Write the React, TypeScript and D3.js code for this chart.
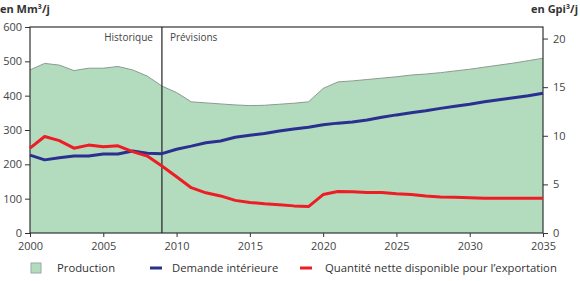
import React, { useEffect, useRef } from "react";
import * as d3 from "d3";

const years = d3.range(2000, 2036);
const production = [
  475, 494, 489, 473, 480, 480, 485, 475, 457, 428,
  409, 382, 379, 376, 373, 371, 372, 375, 378, 382,
  421, 440, 443, 447, 451, 455, 460, 463, 467, 472,
  477, 483, 489, 495, 502, 509,
];
const demand = [
  227, 213, 219, 224, 224, 230, 230, 239, 232, 231,
  244, 253, 263, 268, 279, 285, 290, 297, 303, 308,
  315, 320, 323, 329, 337, 344, 350, 356, 363, 369,
  375, 382, 388, 394, 400, 407,
];
const exportable = [
  247, 281, 269, 247, 256, 251, 254, 237, 224, 195,
  164, 132, 117, 108, 95, 89, 85, 82, 79, 77,
  112, 121, 120, 118, 118, 114, 112, 108, 105, 104,
  103, 101, 101, 101, 101, 101,
];
const leftTicks = [0, 100, 200, 300, 400, 500, 600];
const rightTicks = [0, 5, 10, 15, 20];
const xTicks = [2000, 2005, 2010, 2015, 2020, 2025, 2030, 2035];
const splitYear = 2009;
const legendItems = ["Production", "Demande intérieure", "Quantité nette disponible pour l’exportation"];

const FONT = "'Open Sans', sans-serif";

const App = () => {
  const ref = useRef<SVGSVGElement>(null);

  useEffect(() => {
    const width = 580;
    const height = 281;
    const margin = { top: 27, right: 37, bottom: 48, left: 30 };
    const w = width - margin.left - margin.right;
    const h = height - margin.top - margin.bottom;

    const svgRoot = d3.select(ref.current);
    svgRoot.selectAll("*").remove();
    const svg = svgRoot
      .append("g")
      .attr("transform", `translate(${margin.left},${margin.top})`);

    const x = d3.scaleLinear().domain([2000, 2035]).range([0, w]);
    const y = d3.scaleLinear().domain([0, 600]).range([h, 0]);
    // 1 Mm3 = 35.3147 Gpi3
    const y2 = d3.scaleLinear().domain([0, 600 * 0.0353147]).range([h, 0]);

    // production area
    svg
      .append("path")
      .datum(years)
      .attr("fill", "#b3dcbe")
      .attr("stroke", "none")
      .attr(
        "d",
        d3
          .area<number>()
          .x((d) => x(d))
          .y0(h)
          .y1((d, i) => y(production[i]))
      );
    svg
      .append("path")
      .datum(years)
      .attr("fill", "none")
      .attr("stroke", "#8c9a90")
      .attr("stroke-width", 1)
      .attr(
        "d",
        d3
          .line<number>()
          .x((d) => x(d))
          .y((d, i) => y(production[i]))
      );

    // frame
    svg
      .append("rect")
      .attr("x", 0)
      .attr("y", 0)
      .attr("width", w)
      .attr("height", h)
      .attr("fill", "none")
      .attr("stroke", "#333")
      .attr("stroke-width", 1.2);

    // historical / forecast separator
    svg
      .append("line")
      .attr("x1", x(splitYear))
      .attr("x2", x(splitYear))
      .attr("y1", 0)
      .attr("y2", h)
      .attr("stroke", "#222")
      .attr("stroke-width", 1.2);
    svg
      .append("text")
      .attr("x", x(splitYear) - 9)
      .attr("y", 14)
      .attr("text-anchor", "end")
      .style("font-family", FONT)
      .style("font-size", "10px")
      .style("fill", "#444")
      .text("Historique");
    svg
      .append("text")
      .attr("x", x(splitYear) + 8)
      .attr("y", 14)
      .style("font-family", FONT)
      .style("font-size", "10px")
      .style("fill", "#444")
      .text("Prévisions");

    // lines
    const line = (vals: number[]) =>
      d3
        .line<number>()
        .x((d) => x(d))
        .y((d, i) => y(vals[i]))(years);
    svg
      .append("path")
      .attr("d", line(demand))
      .attr("fill", "none")
      .attr("stroke", "#2b2f8f")
      .attr("stroke-width", 3)
      .attr("stroke-linejoin", "round");
    svg
      .append("path")
      .attr("d", line(exportable))
      .attr("fill", "none")
      .attr("stroke", "#ee1c24")
      .attr("stroke-width", 3)
      .attr("stroke-linejoin", "round");

    // axes
    const styleAxis = (g: any) => {
      g.select(".domain").remove();
      g.selectAll("line").attr("stroke", "#333");
      g.selectAll("text")
        .style("font-family", FONT)
        .style("font-size", "11px")
        .style("fill", "#444");
    };
    svg
      .append("g")
      .attr("transform", `translate(0,${h})`)
      .call(d3.axisBottom(x).tickValues(xTicks).tickFormat(d3.format("d")).tickSize(4).tickPadding(5))
      .call(styleAxis);
    svg
      .append("g")
      .call(d3.axisLeft(y).tickValues(leftTicks).tickSize(5).tickPadding(3))
      .call(styleAxis);
    svg
      .append("g")
      .attr("transform", `translate(${w},0)`)
      .call(d3.axisRight(y2).tickValues(rightTicks).tickSize(5).tickPadding(5))
      .call(styleAxis);

    // units
    svgRoot
      .append("text")
      .attr("x", 0)
      .attr("y", 13)
      .style("font-family", FONT)
      .style("font-size", "11px")
      .style("font-weight", "bold")
      .style("fill", "#333")
      .text("en Mm³/j");
    svgRoot
      .append("text")
      .attr("x", 578)
      .attr("y", 13)
      .attr("text-anchor", "end")
      .style("font-family", FONT)
      .style("font-size", "11px")
      .style("font-weight", "bold")
      .style("fill", "#333")
      .text("en Gpi³/j");

    // legend
    const legend = svgRoot.append("g").attr("transform", "translate(0,268)");
    legend
      .append("rect")
      .attr("x", 31)
      .attr("y", -5)
      .attr("width", 10)
      .attr("height", 10)
      .attr("fill", "#b3dcbe")
      .attr("stroke", "#9aaa9f");
    legend
      .append("line")
      .attr("x1", 150)
      .attr("x2", 162)
      .attr("stroke", "#2b2f8f")
      .attr("stroke-width", 3);
    legend
      .append("line")
      .attr("x1", 300)
      .attr("x2", 312)
      .attr("stroke", "#ee1c24")
      .attr("stroke-width", 3);
    const textX = [57, 172, 325];
    legend
      .selectAll("text.item")
      .data(legendItems)
      .join("text")
      .attr("class", "item")
      .attr("x", (d, i) => textX[i])
      .attr("y", 4)
      .style("font-family", FONT)
      .style("font-size", "11.3px")
      .style("fill", "#333")
      .text((d) => d);
  }, []);

  return (
    <svg
      ref={ref}
      width={580}
      height={281}
      style={{ display: "block", position: "absolute", left: 0, top: 0 }}
    />
  );
};

export default App;
